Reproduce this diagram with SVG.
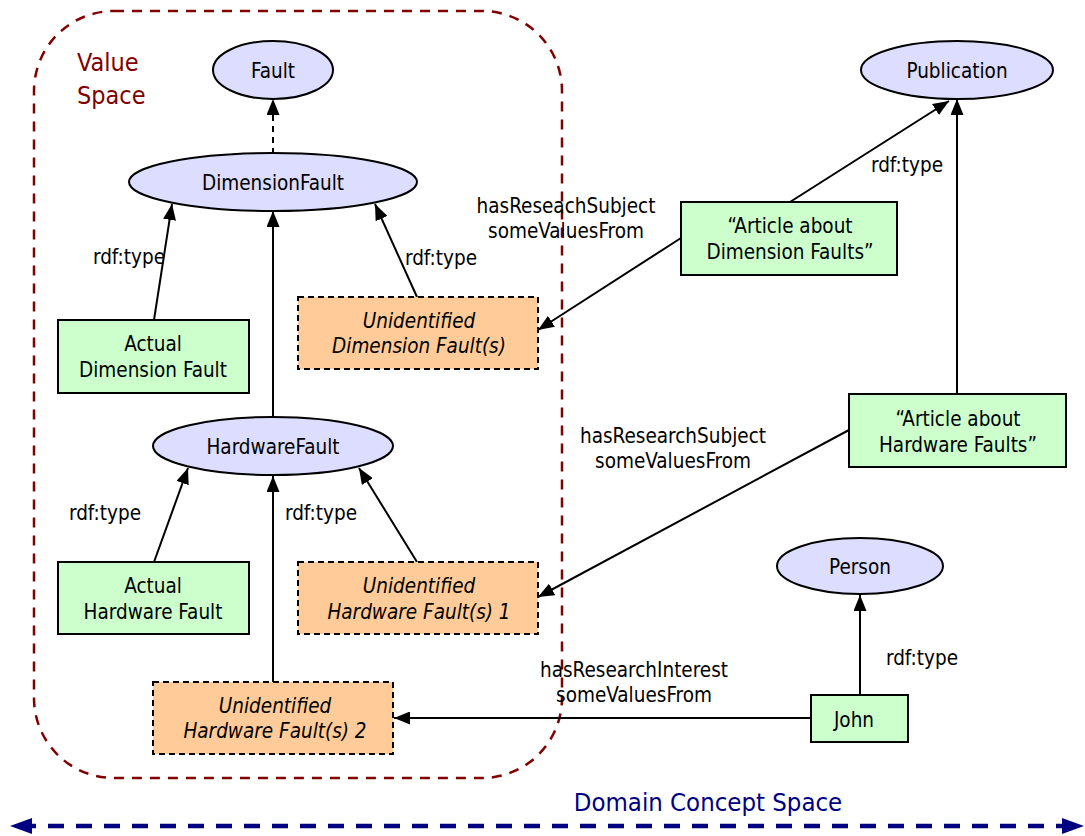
<svg xmlns="http://www.w3.org/2000/svg" width="1085" height="836" viewBox="0 0 1085 836">
  <style>
    text { font-family: "DejaVu Sans Condensed", "DejaVu Sans", sans-serif; font-size: 20.5px; fill: #000; }
    .c { text-anchor: middle; }
    .it { font-style: italic; }
    .cls { fill: #DDDDFF; stroke: #000; stroke-width: 2; }
    .ind { fill: #CCFFCC; stroke: #000; stroke-width: 2; }
    .unk { fill: #FFCC99; stroke: #000; stroke-width: 2; stroke-dasharray: 6 4; }
    .edge { stroke: #000; stroke-width: 2; fill: none; marker-end: url(#arr); }
    .space { fill: #800000; font-size: 25px; }
    .domain { fill: #000080; font-size: 25.5px; }
  </style>
  <defs>
    <marker id="arr" viewBox="0 0 16 13" refX="16" refY="6.5" markerWidth="16" markerHeight="13" markerUnits="userSpaceOnUse" orient="auto">
      <path d="M0,0 L16,6.5 L0,13 Z" fill="#000"/>
    </marker>
    <marker id="navyEnd" viewBox="0 0 22 16" refX="22" refY="8" markerWidth="22" markerHeight="16" markerUnits="userSpaceOnUse" orient="auto">
      <path d="M0,0 L22,8 L0,16 Z" fill="#000080"/>
    </marker>
    <marker id="navyStart" viewBox="0 0 22 16" refX="0" refY="8" markerWidth="22" markerHeight="16" markerUnits="userSpaceOnUse" orient="auto">
      <path d="M22,0 L0,8 L22,16 Z" fill="#000080"/>
    </marker>
  </defs>

  <!-- value space region -->
  <g id="value-space">
    <rect x="34" y="11" width="528" height="767" rx="80" ry="80" fill="none" stroke="#800000" stroke-width="2.5" stroke-dasharray="10 8"/>
    <text class="space" x="77" y="71">Value</text>
    <text class="space" x="77" y="104">Space</text>
  </g>

  <!-- domain concept space axis -->
  <g id="domain-space">
    <line x1="10" y1="826" x2="1084" y2="826" stroke="#000080" stroke-width="4.5" stroke-dasharray="16 12" stroke-dashoffset="-10" marker-start="url(#navyStart)" marker-end="url(#navyEnd)"/>
    <text class="domain" x="708" y="811" text-anchor="middle">Domain Concept Space</text>
  </g>

  <!-- connectors -->
  <g id="connectors">
    <line class="edge" x1="273" y1="154" x2="273" y2="99" stroke-dasharray="6 5"/>
    <line class="edge" x1="154" y1="320" x2="172" y2="204"/>
    <line class="edge" x1="273" y1="417" x2="273" y2="211"/>
    <line class="edge" x1="417" y1="297" x2="375" y2="204"/>
    <line class="edge" x1="681" y1="238" x2="538" y2="330"/>
    <line class="edge" x1="790" y1="202" x2="949" y2="101"/>
    <line class="edge" x1="957" y1="394" x2="957" y2="99"/>
    <line class="edge" x1="849" y1="430" x2="538" y2="597"/>
    <line class="edge" x1="154" y1="562" x2="188" y2="468"/>
    <line class="edge" x1="273" y1="682" x2="273" y2="476"/>
    <line class="edge" x1="417" y1="562" x2="359" y2="468"/>
    <line class="edge" x1="860" y1="695" x2="860" y2="595"/>
    <line class="edge" x1="811" y1="718" x2="394" y2="718"/>

    <text x="129" y="264" class="c">rdf:type</text>
    <text x="441" y="265" class="c">rdf:type</text>
    <text x="907" y="172" class="c">rdf:type</text>
    <text x="105" y="520" class="c">rdf:type</text>
    <text x="321" y="520" class="c">rdf:type</text>
    <text x="922" y="665" class="c">rdf:type</text>
    <text x="566" y="213" class="c">hasReseachSubject</text>
    <text x="566" y="238" class="c">someValuesFrom</text>
    <text x="673" y="443" class="c">hasResearchSubject</text>
    <text x="673" y="468" class="c">someValuesFrom</text>
    <text x="634" y="677" class="c">hasResearchInterest</text>
    <text x="634" y="702" class="c">someValuesFrom</text>
  </g>

  <!-- class nodes -->
  <g id="fault">
    <ellipse class="cls" cx="273" cy="70" rx="60" ry="29"/>
    <text class="c" x="273" y="78">Fault</text>
  </g>
  <g id="dimension-fault">
    <ellipse class="cls" cx="273" cy="182" rx="144" ry="29"/>
    <text class="c" x="273" y="190">DimensionFault</text>
  </g>
  <g id="hardware-fault">
    <ellipse class="cls" cx="273" cy="446" rx="120" ry="29"/>
    <text class="c" x="273" y="454">HardwareFault</text>
  </g>
  <g id="publication">
    <ellipse class="cls" cx="957" cy="70" rx="96" ry="29"/>
    <text class="c" x="957" y="78">Publication</text>
  </g>
  <g id="person">
    <ellipse class="cls" cx="860" cy="566" rx="83" ry="28"/>
    <text class="c" x="860" y="574">Person</text>
  </g>

  <!-- individual nodes -->
  <g id="actual-dimension-fault">
    <rect class="ind" x="58" y="320" width="191" height="73"/>
    <text class="c" x="153" y="351">Actual</text>
    <text class="c" x="153" y="377">Dimension Fault</text>
  </g>
  <g id="actual-hardware-fault">
    <rect class="ind" x="58" y="562" width="191" height="72"/>
    <text class="c" x="153" y="593">Actual</text>
    <text class="c" x="153" y="619">Hardware Fault</text>
  </g>
  <g id="article-dimension">
    <rect class="ind" x="681" y="202" width="216" height="73"/>
    <text class="c" x="790" y="233">“Article about</text>
    <text class="c" x="790" y="259">Dimension Faults”</text>
  </g>
  <g id="article-hardware">
    <rect class="ind" x="849" y="394" width="217" height="73"/>
    <text class="c" x="958" y="426">“Article about</text>
    <text class="c" x="958" y="452">Hardware Faults”</text>
  </g>
  <g id="john">
    <rect class="ind" x="811" y="695" width="97" height="47"/>
    <text class="c" x="854" y="727">John</text>
  </g>

  <!-- unidentified value nodes -->
  <g id="unidentified-dimension">
    <rect class="unk" x="298" y="297" width="240" height="72"/>
    <text class="c it" x="419" y="328">Unidentified</text>
    <text class="c it" x="419" y="353">Dimension Fault(s)</text>
  </g>
  <g id="unidentified-hardware-1">
    <rect class="unk" x="298" y="562" width="240" height="72"/>
    <text class="c it" x="419" y="593">Unidentified</text>
    <text class="c it" x="419" y="619">Hardware Fault(s) 1</text>
  </g>
  <g id="unidentified-hardware-2">
    <rect class="unk" x="153" y="682" width="240" height="72"/>
    <text class="c it" x="275" y="713">Unidentified</text>
    <text class="c it" x="275" y="738">Hardware Fault(s) 2</text>
  </g>
</svg>
